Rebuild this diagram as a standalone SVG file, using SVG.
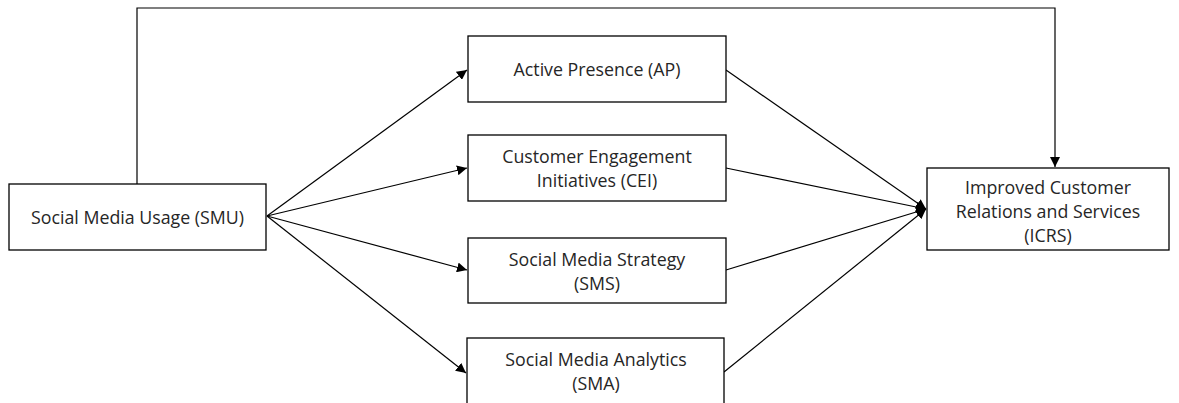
<svg xmlns="http://www.w3.org/2000/svg" width="1179" height="403" viewBox="0 0 1179 403">
<style>
.box{fill:#fff;stroke:#000;stroke-width:1.3}
.t{font-family:"Open Sans","Liberation Sans",sans-serif;font-size:17.8px;fill:#262626;text-anchor:middle;dominant-baseline:central}
.c{fill:none;stroke:#000;stroke-width:1.2}
</style>
<defs>
<marker id="ah" viewBox="0 0 10 10" refX="10" refY="5" markerWidth="10" markerHeight="10" markerUnits="userSpaceOnUse" orient="auto">
<path d="M0,0 L10,5 L0,10 z" fill="#000"/>
</marker>
</defs>
<rect width="1179" height="403" fill="#fff"/>
<g id="connectors">
<polyline class="c" points="137,184 137,8 1055,8 1055,167" marker-end="url(#ah)"/>
<line class="c" x1="267" y1="216" x2="467" y2="70" marker-end="url(#ah)"/>
<line class="c" x1="267" y1="216" x2="467" y2="168" marker-end="url(#ah)"/>
<line class="c" x1="267" y1="216" x2="467" y2="270" marker-end="url(#ah)"/>
<line class="c" x1="267" y1="216" x2="466" y2="373" marker-end="url(#ah)"/>
<line class="c" x1="726" y1="70" x2="926" y2="209" marker-end="url(#ah)"/>
<line class="c" x1="726" y1="168" x2="926" y2="209" marker-end="url(#ah)"/>
<line class="c" x1="726" y1="270" x2="926" y2="209" marker-end="url(#ah)"/>
<line class="c" x1="724" y1="372" x2="926" y2="209" marker-end="url(#ah)"/>
</g>
<g id="smu"><rect class="box" x="9" y="184" width="257" height="66"/><text class="t" x="137.5" y="217">Social Media Usage (SMU)</text></g>
<g id="ap"><rect class="box" x="468" y="36" width="258" height="66"/><text class="t" x="597" y="69">Active Presence (AP)</text></g>
<g id="cei"><rect class="box" x="468" y="135" width="258" height="66"/><text class="t" x="597" y="156">Customer Engagement</text><text class="t" x="597" y="180">Initiatives (CEI)</text></g>
<g id="sms"><rect class="box" x="468" y="238" width="258" height="65"/><text class="t" x="597" y="259">Social Media Strategy</text><text class="t" x="597" y="283">(SMS)</text></g>
<g id="sma"><rect class="box" x="467" y="338" width="257" height="70"/><text class="t" x="596" y="359">Social Media Analytics</text><text class="t" x="596" y="383">(SMA)</text></g>
<g id="icrs"><rect class="box" x="927" y="168" width="242" height="82"/><text class="t" x="1048" y="187">Improved Customer</text><text class="t" x="1048" y="211">Relations and Services</text><text class="t" x="1048" y="235">(ICRS)</text></g>
</svg>
